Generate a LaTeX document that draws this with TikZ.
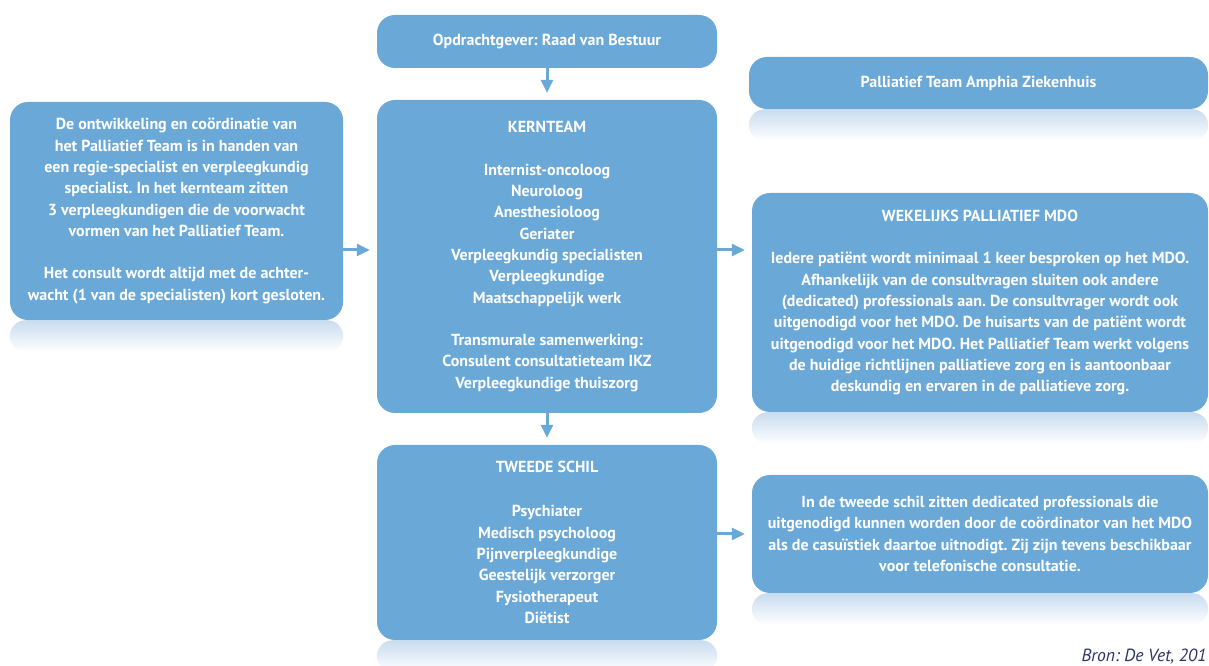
\documentclass[tikz,border=0pt]{standalone}
\usepackage{fontspec}
\setmainfont{PT Sans}[BoldFont={PT Sans Bold},ItalicFont={PT Sans Italic}]
\usetikzlibrary{arrows.meta,calc}
\definecolor{boxblue}{RGB}{106,168,216}
\definecolor{mirror}{RGB}{200,220,239}
\definecolor{navy}{RGB}{40,52,100}
% soft mirrored strip under a panel: #1 node name, #2 depth
\newcommand\mirrorstrip[2]{%
  \shade[top color=mirror, bottom color=white, rounded corners=16pt]
    (#1.south west) -- ++(0,-#2) -| (#1.south east) -- cycle;}
\frenchspacing
\begin{document}
\begin{tikzpicture}[x=1pt,y=1pt,
  panel/.style={fill=boxblue, rounded corners=18pt, text=white,
    font=\bfseries\fontsize{16}{21.3}\selectfont\frenchspacing, align=center,
    inner sep=0pt, anchor=center},
  arr/.style={draw=boxblue, line width=3pt,
    -{Triangle[length=13pt,width=12pt]}, shorten >=7pt},
]
\useasboundingbox (0,0) rectangle (1209,666);

\node[panel, minimum width=340, minimum height=53] (opdr) at (547,624.5)
  {Opdrachtgever: Raad van Bestuur};

\node[panel, minimum width=340, minimum height=313] (kern) at (547,409.5)
  {KERNTEAM\\[21.3pt]
   Internist-oncoloog\\ Neuroloog\\ Anesthesioloog\\ Geriater\\
   Verpleegkundig specialisten\\ Verpleegkundige\\ Maatschappelijk werk\\[21.3pt]
   Transmurale samenwerking:\\ Consulent consultatieteam IKZ\\
   Verpleegkundige thuiszorg};

\node[panel, minimum width=340, minimum height=195] (schil) at (547,123.5)
  {TWEEDE SCHIL\\[23pt]
   Psychiater\\ Medisch psycholoog\\ Pijnverpleegkundige\\
   Geestelijk verzorger\\ Fysiotherapeut\\ Diëtist};

\node[panel, minimum width=333, minimum height=218] (links) at (176.5,455)
  {De ontwikkeling en coördinatie van\\
   het Palliatief Team is in handen van\\
   een regie-specialist en verpleegkundig\\
   specialist. In het kernteam zitten\\
   3 verpleegkundigen die de voorwacht\\
   vormen van het Palliatief Team.\\[21.3pt]
   Het consult wordt altijd met de achter-\\
   wacht (1 van de specialisten) kort gesloten.};

\node[panel, minimum width=459, minimum height=52] (amphia) at (978.5,583)
  {Palliatief Team Amphia Ziekenhuis};

\node[panel, minimum width=456, minimum height=219] (mdo) at (980,363.5)
  {WEKELIJKS PALLIATIEF MDO\\[21.3pt]
   Iedere patiënt wordt minimaal 1 keer besproken op het MDO.\\
   Afhankelijk van de consultvragen sluiten ook andere\\
   (dedicated) professionals aan. De consultvrager wordt ook\\
   uitgenodigd voor het MDO. De huisarts van de patiënt wordt\\
   uitgenodigd voor het MDO. Het Palliatief Team werkt volgens\\
   de huidige richtlijnen palliatieve zorg en is aantoonbaar\\
   deskundig en ervaren in de palliatieve zorg.};

\node[panel, minimum width=456, minimum height=118] (info) at (980,132)
  {In de tweede schil zitten dedicated professionals die\\
   uitgenodigd kunnen worden door de coördinator van het MDO\\
   als de casuïstiek daartoe uitnodigt. Zij zijn tevens beschikbaar\\
   voor telefonische consultatie.};

% reflections
\mirrorstrip{links}{32}
\mirrorstrip{amphia}{32}
\mirrorstrip{mdo}{32}
\mirrorstrip{info}{32}
\mirrorstrip{schil}{32}

% connectors
\coordinate (rowA) at (0,416);
\draw[arr] (opdr) -- (kern);
\draw[arr] (kern) -- (schil);
\draw[arr] (links.east |- rowA) -- (kern.west |- rowA);
\draw[arr] (kern.east |- rowA) -- (mdo.west |- rowA);
\draw[arr] (schil.east |- info.west) -- (info.west);

\node[anchor=base west, text=navy, font=\itshape\fontsize{17.6}{19}\selectfont]
  (bron) at (1078,5) {Bron: De Vet, 201};
\end{tikzpicture}
\end{document}
